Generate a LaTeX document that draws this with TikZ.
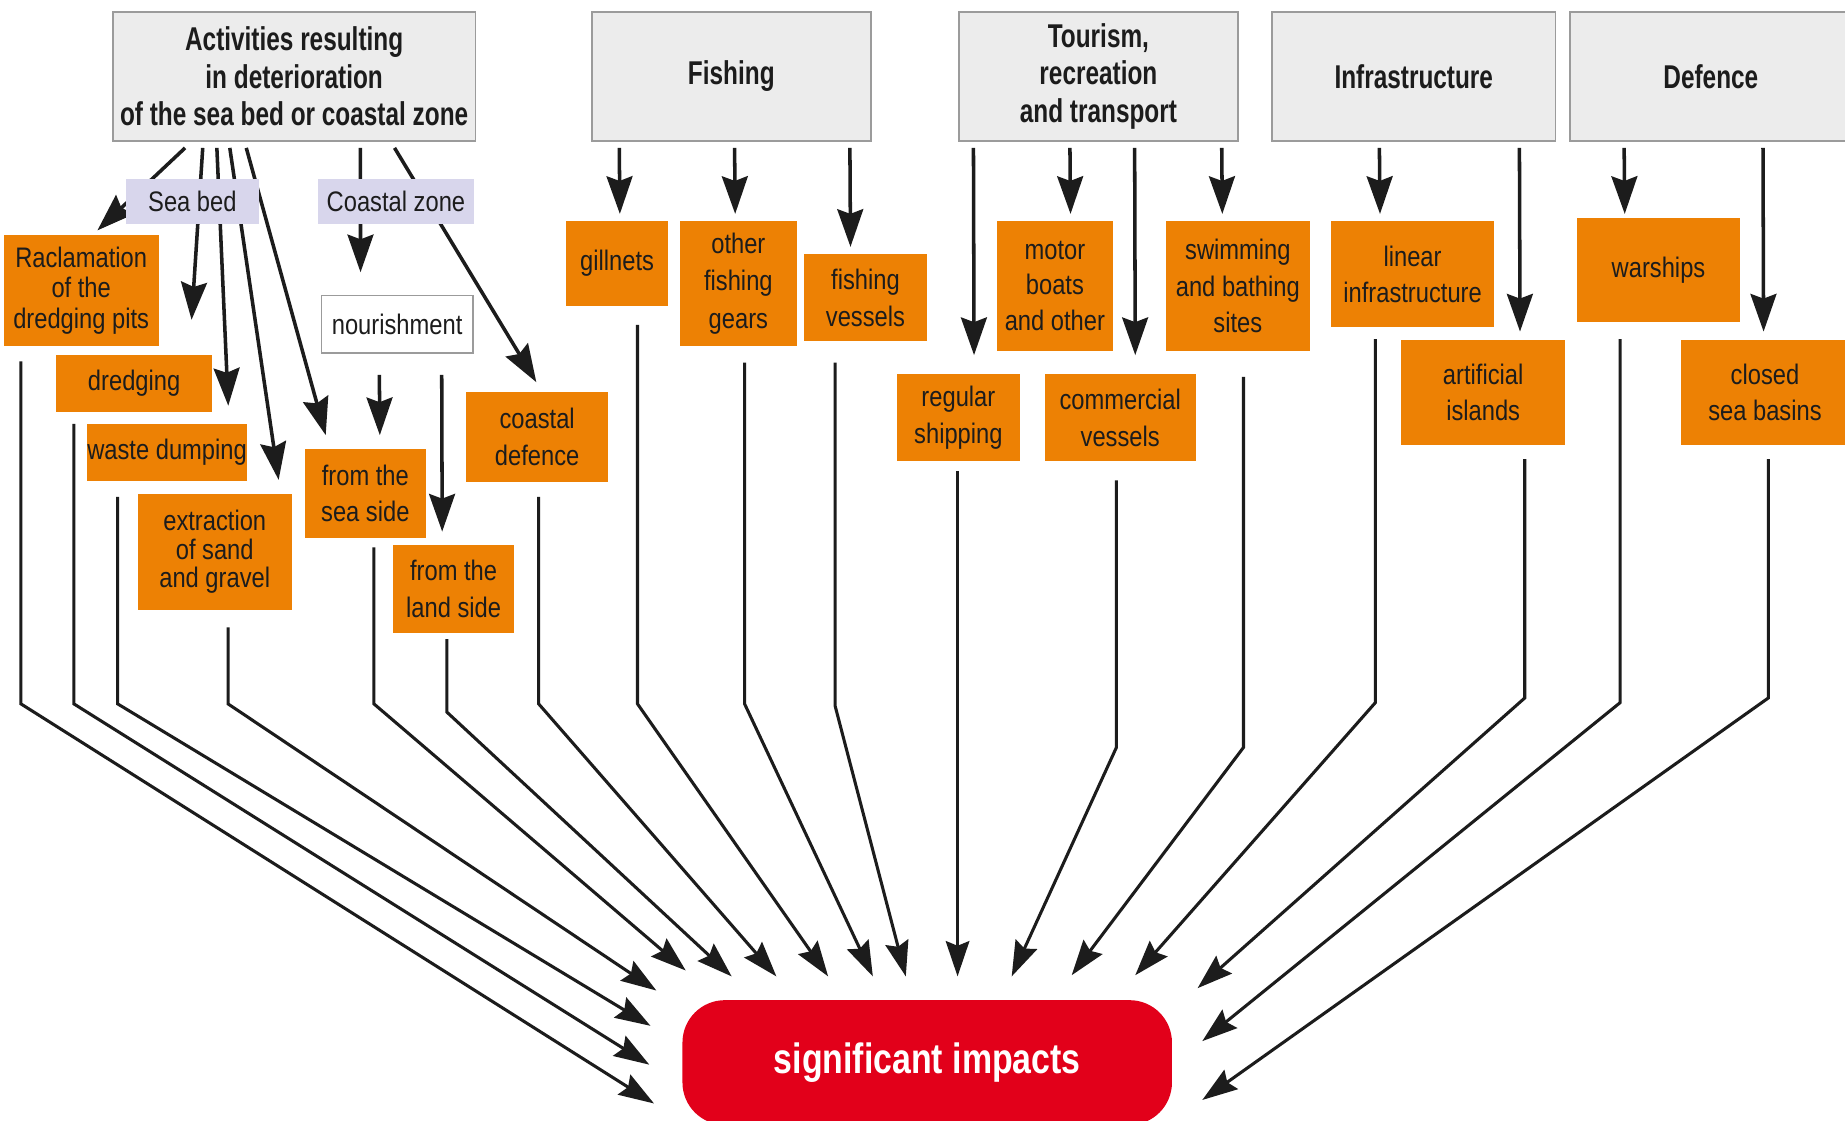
\documentclass[tikz,border=0pt]{standalone}
\usepackage{fontspec}
\setmainfont{Liberation Sans}[FakeStretch=0.84]
\newfontfamily\hdrfont{Liberation Sans}[FakeStretch=0.74]
\newfontfamily\impfont{Liberation Sans}[FakeStretch=0.80]
\usetikzlibrary{arrows.meta,calc}
\definecolor{hdrfill}{RGB}{236,236,236}
\definecolor{hdrdraw}{RGB}{155,155,155}
\definecolor{lav}{RGB}{216,214,236}
\definecolor{org}{RGB}{237,129,4}
\definecolor{impred}{RGB}{226,0,26}
\definecolor{ink}{RGB}{28,28,28}
\begin{document}
\begin{tikzpicture}[x=1pt,y=-1pt,
  hdr/.style={draw=hdrdraw,line width=1.4pt,fill=hdrfill,inner sep=0pt,align=center,
    text=ink,font=\hdrfont\bfseries\fontsize{28}{32}\selectfont,minimum height=110pt},
  obox/.style={fill=org,inner sep=0pt,align=center,text=ink,font=\fontsize{24}{31}\selectfont},
  lbox/.style={fill=lav,inner sep=0pt,minimum height=38pt,text=ink,font=\fontsize{24}{30}\selectfont},
  arr/.style={draw=ink,line width=3pt,-{Stealth[length=32pt,width=22pt,inset=4pt]}},
  barr/.style={draw=ink,line width=2.6pt,-{Stealth[length=30pt,width=20pt,inset=4pt]}}
]
\fill[white] (0,0) rectangle (1568,952);
\useasboundingbox (0,0) rectangle (1568,952);

% headers
\node[hdr,minimum width=308pt] (h1) at (250,65) {Activities resulting\\in deterioration\\of the sea bed or coastal zone};
\node[hdr,minimum width=237pt] (h2) at (621.5,65) {Fishing};
\node[hdr,minimum width=237pt] (h3) at (933.5,65) {Tourism,\\recreation\\and transport};
\node[hdr,minimum width=241pt] (h4) at (1201.5,65) {Infrastructure};
\node[hdr,minimum width=240pt] (h5) at (1454,65) {Defence};

% boxes
\node[lbox,minimum width=113pt] (seabed) at (163.5,171) {Sea bed};
\node[lbox,minimum width=133pt] (coastal) at (336.5,171) {Coastal zone};
\node[draw=hdrdraw,line width=1.2pt,fill=white,inner sep=0pt,text=ink,font=\fontsize{24}{30}\selectfont,
      minimum width=129pt,minimum height=49pt] (nour) at (337.5,275.5) {nourishment};
\node[obox,minimum width=132pt,minimum height=94pt,font=\fontsize{24}{26}\selectfont] (rac) at (69,247) {Raclamation\\of the\\dredging pits};
\node[obox,minimum width=132pt,minimum height=48pt] (dredg) at (114,326) {dredging};
\node[obox,minimum width=132pt,minimum height=49pt] (waste) at (142,384.5) {waste dumping};
\node[obox,minimum width=131pt,minimum height=98pt,font=\fontsize{24}{24}\selectfont] (extr) at (182.5,469) {extraction\\of sand\\and gravel};
\node[obox,minimum width=103pt,minimum height=75pt] (seaside) at (310.5,419.5) {from the\\sea side};
\node[obox,minimum width=103pt,minimum height=75pt] (landside) at (385.5,500.5) {from the\\land side};
\node[obox,minimum width=121pt,minimum height=77pt] (cdef) at (456.5,371.5) {coastal\\defence};
\node[obox,minimum width=87pt,minimum height=72pt] (gil) at (524.5,224) {gillnets};
\node[obox,minimum width=99pt,minimum height=106pt,font=\fontsize{24}{32}\selectfont] (ofg) at (627.5,241) {other\\fishing\\gears};
\node[obox,minimum width=105pt,minimum height=74pt] (fv) at (735.5,253) {fishing\\vessels};
\node[obox,minimum width=105pt,minimum height=74pt] (reg) at (814.5,355) {regular\\shipping};
\node[obox,minimum width=99pt,minimum height=110pt,font=\fontsize{24}{30}\selectfont] (mb) at (896.5,243) {motor\\boats\\and other};
\node[obox,minimum width=128pt,minimum height=74pt] (com) at (952,355) {commercial\\vessels};
\node[obox,minimum width=122pt,minimum height=110pt] (swim) at (1052,243) {swimming\\and bathing\\sites};
\node[obox,minimum width=139pt,minimum height=90pt] (lin) at (1200.5,233) {linear\\infrastructure};
\node[obox,minimum width=139pt,minimum height=89pt] (art) at (1260.5,333.5) {artificial\\islands};
\node[obox,minimum width=139pt,minimum height=89pt] (war) at (1409.5,229.5) {warships};
\node[obox,minimum width=142pt,minimum height=89pt] (closed) at (1500,333.5) {closed\\sea basins};
\node[fill=impred,rounded corners=36pt,minimum width=416pt,minimum height=106pt,inner sep=0pt,
      text=white,font=\impfont\bfseries\fontsize{36}{40}\selectfont] (imp) at (788,903) {significant impacts};

% top arrows
\draw[arr] ($(h1.south west)+(62,5)$) -- ($(rac.north west)+(80,-4)$);
\draw[arr] ($(h1.south west)+(77,5)$) -- ($(dredg.north west)+(115,-30)$);
\draw[arr] ($(h1.south west)+(89,5)$) -- ($(waste.north west)+(120,-15)$);
\draw[arr] ($(h1.south west)+(100,5)$) -- ($(extr.north west)+(120,-12)$);
\draw[arr] ($(h1.south west)+(114,5)$) -- ($(seaside.north west)+(18,-12)$);
\draw[arr] ($(h1.south west)+(211,5)$) -- ($(nour.north west)+(34,-19)$);
\draw[arr] ($(h1.south west)+(240,5)$) -- ($(cdef.north west)+(60,-8)$);
\draw[arr] ($(nour.south west)+(50,18)$) -- ($(seaside.north west)+(64,-12)$);
\draw[arr] ($(nour.south west)+(103,18)$) -- ($(landside.north west)+(42,-11)$);

\draw[arr] ($(h2.south west)+(24,5)$) -- ($(gil.north west)+(46,-6)$);
\draw[arr] ($(h2.south west)+(122,5)$) -- ($(ofg.north west)+(47,-6)$);
\draw[arr] ($(h2.south west)+(220,5)$) -- ($(fv.north west)+(40,-6)$);

\draw[arr] ($(h3.south west)+(13,5)$) -- ($(reg.north west)+(66,-16)$);
\draw[arr] ($(h3.south west)+(95,5)$) -- ($(mb.north west)+(63,-6)$);
\draw[arr] ($(h3.south west)+(150,5)$) -- ($(com.north west)+(77,-16)$);
\draw[arr] ($(h3.south west)+(224,5)$) -- ($(swim.north west)+(48,-6)$);

\draw[arr] ($(h4.south west)+(92,5)$) -- ($(lin.north west)+(42,-6)$);
\draw[arr] ($(h4.south west)+(211,5)$) -- ($(art.north west)+(101,-7)$);

\draw[arr] ($(h5.south west)+(47,5)$) -- ($(war.north west)+(41,-3)$);
\draw[arr] ($(h5.south west)+(165,5)$) -- ($(closed.north west)+(70,-7)$);

% category labels drawn again over the lines that pass behind them
\node[lbox,minimum width=113pt] at (seabed) {Sea bed};
\node[lbox,minimum width=133pt] at (coastal) {Coastal zone};

% bottom arrows
\draw[barr] ($(rac.south west)+(15,13)$) -- ++(0,291) -- ($(imp.north west)+(-24,88)$);
\draw[barr] ($(dredg.south west)+(15,10)$) -- ++(0,238) -- ($(imp.north west)+(-28,55)$);
\draw[barr] ($(waste.south west)+(26,13)$) -- ++(0,176) -- ($(imp.north west)+(-27,22)$);
\draw[barr] ($(extr.south west)+(77,15)$) -- ++(0,65) -- ($(imp.north west)+(-22,-8)$);
\draw[barr] ($(seaside.south west)+(59,8)$) -- ++(0,133) -- ($(imp.north west)+(3,-25)$);
\draw[barr] ($(landside.south west)+(46,5)$) -- ++(0,62) -- ($(imp.north west)+(42,-20)$);
\draw[barr] ($(cdef.south west)+(62,12)$) -- ++(0,176) -- ($(imp.north west)+(80,-20)$);
\draw[barr] ($(gil.south west)+(61,16)$) -- ++(0,322) -- ($(imp.north west)+(124,-20)$);
\draw[barr] ($(ofg.south west)+(55,14)$) -- ++(0,290) -- ($(imp.north west)+(162,-20)$);
\draw[barr] ($(fv.south west)+(27,18)$) -- ++(0,292) -- ($(imp.north west)+(190,-20)$);
\draw[barr] ($(reg.south west)+(52,8)$) -- ($(imp.north west)+(234,-20)$);
\draw[barr] ($(com.south west)+(61,16)$) -- ++(0,227) -- ($(imp.north west)+(280,-20)$);
\draw[barr] ($(swim.south west)+(66,22)$) -- ++(0,315) -- ($(imp.north west)+(331,-21)$);
\draw[barr] ($(lin.south west)+(38,10)$) -- ++(0,309) -- ($(imp.north west)+(385,-21)$);
\draw[barr] ($(art.south west)+(105,12)$) -- ++(0,203) -- ($(imp.north west)+(438,-10)$);
\draw[barr] ($(war.south west)+(37,14)$) -- ++(0,309) -- ($(imp.north west)+(442,35)$);
\draw[barr] ($(closed.south west)+(74,12)$) -- ++(0,203) -- ($(imp.north west)+(442,85)$);
\end{tikzpicture}
\end{document}
